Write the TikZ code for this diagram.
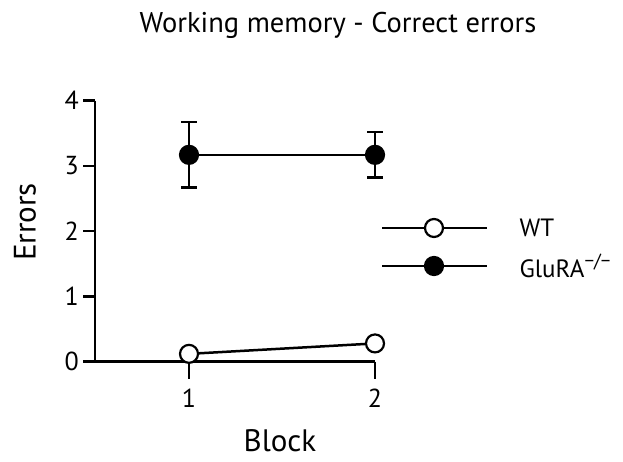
\documentclass[tikz,border=0pt]{standalone}
\usepackage{fontspec}
\setmainfont{PT Sans}
\usepackage{tikz}
\usetikzlibrary{positioning}

\begin{document}
\begin{tikzpicture}[x=1pt, y=1pt, line width=2.5pt,
    openpt/.style={circle, draw=black, fill=white, line width=2.2pt,
                   minimum size=18pt, inner sep=0pt},
    fullpt/.style={circle, draw=black, fill=black, line width=2.2pt,
                   minimum size=18pt, inner sep=0pt},
    ticklbl/.style={font=\fontsize{26}{26}\selectfont, inner sep=3pt},
    axlbl/.style={font=\fontsize{31}{31}\selectfont},
    leglbl/.style={font=\fontsize{25}{25}\selectfont, anchor=west}]
  \useasboundingbox (0,0) rectangle (623,462);

  % title and axis labels
  \node[font=\fontsize{28.5}{28.5}\selectfont] (title) at (338,437) {Working memory - Correct errors};
  \node[axlbl, rotate=90] (ylbl) at (25,240) {Errors};
  \node[axlbl] (xlbl) at (280,21) {Block};

  \begin{scope}[shift={(3pt,100.3pt)}, x=186pt, y=65.25pt]
    % axes
    \coordinate (orig) at (0.495,0);
    \coordinate (ytop) at (0.495,4);
    \coordinate (xend) at (2,0);
    \draw (ytop) -- (orig) -- (xend);
    \foreach \v in {0,...,4} {
      \coordinate (yt\v) at (0.495,\v);
      \draw (yt\v) -- ++(-12pt,0) node[left, ticklbl] (ylab\v) {\v};
    }
    \foreach \b in {1,2} {
      \coordinate (xt\b) at (\b,0);
      \draw (xt\b) -- ++(0,-17pt) node[below=6pt, ticklbl] (xlab\b) {\b};
    }

    % GluRA-/- with error bars
    \coordinate (g1top) at (1,3.67);
    \coordinate (g1bot) at (1,2.67);
    \coordinate (g2top) at (2,3.52);
    \coordinate (g2bot) at (2,2.82);
    \node[fullpt] (g1) at (1,3.17) {};
    \node[fullpt] (g2) at (2,3.17) {};
    \draw (g1) -- (g2);
    \foreach \p in {g1,g2} {
      \draw (\p.north) -- (\p top);
      \draw (\p.south) -- (\p bot);
      \draw ([xshift=-8pt]\p top) -- ([xshift=8pt]\p top);
      \draw ([xshift=-8pt]\p bot) -- ([xshift=8pt]\p bot);
    }

    % WT
    \node[openpt] (w1) at (1,0.12) {};
    \node[openpt] (w2) at (2,0.28) {};
    \draw (w1) -- (w2);
  \end{scope}

  % legend
  \coordinate (lwtl) at (382,234);
  \coordinate (lwtr) at (487,234);
  \coordinate (lgll) at (382,196);
  \coordinate (lglr) at (487,196);
  \draw (lwtl) -- (lwtr);
  \draw (lgll) -- (lglr);
  \node[openpt] (lwt) at (434,234) {};
  \node[fullpt] (lgl) at (434,196) {};
  \node[leglbl, right=28pt of lwtr] (twt) {WT};
  \node[leglbl, right=28pt of lglr] (tgl)
    {GluRA\raisebox{0.75ex}{\fontsize{19}{19}\selectfont −/−}};
\end{tikzpicture}
\end{document}
